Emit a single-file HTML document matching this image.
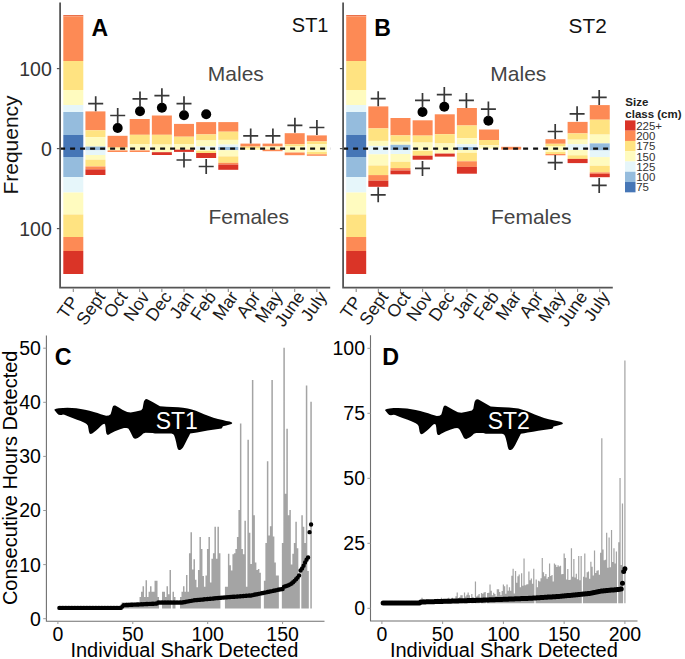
<!DOCTYPE html>
<html><head><meta charset="utf-8"><style>html,body{margin:0;padding:0;background:#fff;}svg{display:block;font-family:"Liberation Sans",sans-serif;}</style></head><body>
<svg width="685" height="659" viewBox="0 0 685 659">
<rect width="685" height="659" fill="#fff"/>
<rect x="63.3" y="15" width="20" height="1.4" fill="#E9704A"/>
<rect x="63.3" y="16.4" width="20" height="44.6" fill="#FD8A55"/>
<rect x="63.3" y="61" width="20" height="29" fill="#FFE381"/>
<rect x="63.3" y="90" width="20" height="15" fill="#FFFBBF"/>
<rect x="63.3" y="105" width="20" height="7" fill="#E6F6FA"/>
<rect x="63.3" y="112" width="20" height="23" fill="#95BCDD"/>
<rect x="63.3" y="135" width="20" height="22" fill="#4676B6"/>
<rect x="63.3" y="157" width="20" height="20" fill="#95BCDD"/>
<rect x="63.3" y="177" width="20" height="15.5" fill="#E6F6FA"/>
<rect x="63.3" y="192.5" width="20" height="22" fill="#FFFBBF"/>
<rect x="63.3" y="214.5" width="20" height="22.5" fill="#FFE381"/>
<rect x="63.3" y="237" width="20" height="14" fill="#FD8A55"/>
<rect x="63.3" y="251" width="20" height="23" fill="#DA3427"/>
<rect x="85.44" y="111.4" width="20" height="18.9" fill="#FD8A55"/>
<rect x="85.44" y="130.3" width="20" height="6.8" fill="#FFE381"/>
<rect x="85.44" y="137.1" width="20" height="9.5" fill="#FFFBBF"/>
<rect x="85.44" y="146.6" width="20" height="3.7" fill="#95BCDD"/>
<rect x="85.44" y="150.3" width="20" height="4.7" fill="#E6F6FA"/>
<rect x="85.44" y="155" width="20" height="4.7" fill="#FFFBBF"/>
<rect x="85.44" y="159.7" width="20" height="6.8" fill="#FFE381"/>
<rect x="85.44" y="166.5" width="20" height="2.9" fill="#FD8A55"/>
<rect x="85.44" y="169.4" width="20" height="5.6" fill="#DA3427"/>
<rect x="107.58" y="135.8" width="20" height="11.6" fill="#FD8A55"/>
<rect x="107.58" y="147.4" width="20" height="1.2" fill="#FFE381"/>
<rect x="107.58" y="148.6" width="20" height="1.8" fill="#FFFBBF"/>
<rect x="107.58" y="150.4" width="20" height="1.6" fill="#FD8A55"/>
<rect x="129.72" y="119" width="20" height="15.8" fill="#FD8A55"/>
<rect x="129.72" y="134.8" width="20" height="9.2" fill="#FFE381"/>
<rect x="129.72" y="144" width="20" height="6.4" fill="#FFFBBF"/>
<rect x="129.72" y="150.4" width="20" height="1.6" fill="#FD8A55"/>
<rect x="151.86" y="115.5" width="20" height="19.3" fill="#FD8A55"/>
<rect x="151.86" y="134.8" width="20" height="9.8" fill="#FFE381"/>
<rect x="151.86" y="144.6" width="20" height="7.6" fill="#FFFBBF"/>
<rect x="151.86" y="152.2" width="20" height="2.8" fill="#DA3427"/>
<rect x="174" y="123.9" width="20" height="12.8" fill="#FD8A55"/>
<rect x="174" y="136.7" width="20" height="7.3" fill="#FFE381"/>
<rect x="174" y="144" width="20" height="5.7" fill="#FFFBBF"/>
<rect x="174" y="149.7" width="20" height="2.2" fill="#DA3427"/>
<rect x="196.14" y="122.1" width="20" height="12.3" fill="#FD8A55"/>
<rect x="196.14" y="134.4" width="20" height="6.1" fill="#FFE381"/>
<rect x="196.14" y="140.5" width="20" height="6" fill="#FFFBBF"/>
<rect x="196.14" y="146.5" width="20" height="3.3" fill="#E6F6FA"/>
<rect x="196.14" y="149.8" width="20" height="1.2" fill="#FFFBBF"/>
<rect x="196.14" y="151" width="20" height="2" fill="#FFE381"/>
<rect x="196.14" y="153" width="20" height="5" fill="#DA3427"/>
<rect x="218.28" y="122.1" width="20" height="9.6" fill="#FD8A55"/>
<rect x="218.28" y="131.7" width="20" height="8.2" fill="#FFE381"/>
<rect x="218.28" y="139.9" width="20" height="4.7" fill="#FFFBBF"/>
<rect x="218.28" y="144.6" width="20" height="2.4" fill="#E6F6FA"/>
<rect x="218.28" y="147" width="20" height="3.2" fill="#95BCDD"/>
<rect x="218.28" y="150.2" width="20" height="6.2" fill="#FFFBBF"/>
<rect x="218.28" y="156.4" width="20" height="6.4" fill="#FFE381"/>
<rect x="218.28" y="162.8" width="20" height="1.8" fill="#FD8A55"/>
<rect x="218.28" y="164.6" width="20" height="5.2" fill="#DA3427"/>
<rect x="240.42" y="143.6" width="20" height="3" fill="#FD8A55"/>
<rect x="240.42" y="146.6" width="20" height="2" fill="#FFE381"/>
<rect x="240.42" y="148.6" width="20" height="1.4" fill="#FFFBBF"/>
<rect x="262.56" y="143.6" width="20" height="2.9" fill="#FD8A55"/>
<rect x="262.56" y="146.5" width="20" height="3.1" fill="#FFFBBF"/>
<rect x="262.56" y="149.6" width="20" height="1.6" fill="#FD8A55"/>
<rect x="284.7" y="133.2" width="20" height="11.1" fill="#FD8A55"/>
<rect x="284.7" y="144.3" width="20" height="1.7" fill="#FFE381"/>
<rect x="284.7" y="146" width="20" height="6.5" fill="#FFFBBF"/>
<rect x="284.7" y="152.5" width="20" height="2.7" fill="#FD8A55"/>
<rect x="306.84" y="135.4" width="20" height="6" fill="#FD8A55"/>
<rect x="306.84" y="141.4" width="20" height="2.9" fill="#FFE381"/>
<rect x="306.84" y="144.3" width="20" height="7.7" fill="#FFFBBF"/>
<rect x="306.84" y="152" width="20" height="2.3" fill="#FFE381"/>
<rect x="306.84" y="154.3" width="20" height="1.5" fill="#FD8A55"/>
<line x1="60.1" y1="148.6" x2="330.2" y2="148.6" stroke="#111" stroke-width="2.1" stroke-dasharray="5 5"/>
<circle cx="117.7" cy="128" r="5" fill="#000"/>
<circle cx="140" cy="111.2" r="5" fill="#000"/>
<circle cx="161.9" cy="107.8" r="5" fill="#000"/>
<circle cx="184" cy="115.3" r="5" fill="#000"/>
<circle cx="206.2" cy="114.3" r="5" fill="#000"/>
<path d="M88.2 103.7h15M95.7 96.2v15" stroke="#383838" stroke-width="1.7" fill="none"/>
<path d="M110.2 115.5h15M117.7 108v15" stroke="#383838" stroke-width="1.7" fill="none"/>
<path d="M132.5 98.9h15M140 91.4v15" stroke="#383838" stroke-width="1.7" fill="none"/>
<path d="M154.4 95.7h15M161.9 88.2v15" stroke="#383838" stroke-width="1.7" fill="none"/>
<path d="M176.5 103.7h15M184 96.2v15" stroke="#383838" stroke-width="1.7" fill="none"/>
<path d="M176.5 160h15M184 152.5v15" stroke="#383838" stroke-width="1.7" fill="none"/>
<path d="M198.7 166.5h15M206.2 159v15" stroke="#383838" stroke-width="1.7" fill="none"/>
<path d="M243.2 135.9h15M250.7 128.4v15" stroke="#383838" stroke-width="1.7" fill="none"/>
<path d="M265.4 135.9h15M272.9 128.4v15" stroke="#383838" stroke-width="1.7" fill="none"/>
<path d="M287.4 125.3h15M294.9 117.8v15" stroke="#383838" stroke-width="1.7" fill="none"/>
<path d="M309.4 127.5h15M316.9 120v15" stroke="#383838" stroke-width="1.7" fill="none"/>
<path d="M60.1 2.5V287.7H330.2" stroke="#555555" stroke-width="1.8" fill="none"/>
<line x1="56.9" y1="68.6" x2="60.1" y2="68.6" stroke="#555555" stroke-width="1.2"/>
<text x="51.8" y="75.5" text-anchor="end" font-size="19.5" fill="#333">100</text>
<line x1="56.9" y1="148.6" x2="60.1" y2="148.6" stroke="#555555" stroke-width="1.2"/>
<text x="51.8" y="155.5" text-anchor="end" font-size="19.5" fill="#333">0</text>
<line x1="56.9" y1="228.6" x2="60.1" y2="228.6" stroke="#555555" stroke-width="1.2"/>
<text x="51.8" y="235.5" text-anchor="end" font-size="19.5" fill="#333">100</text>
<line x1="73.3" y1="288.4" x2="73.3" y2="291.9" stroke="#8a8a8a" stroke-width="1.1"/>
<text transform="translate(69.4 294.8) rotate(-55)" text-anchor="end" font-size="17.6" fill="#1a1a1a" dy="12">TP</text>
<line x1="95.44" y1="288.4" x2="95.44" y2="291.9" stroke="#8a8a8a" stroke-width="1.1"/>
<text transform="translate(96.24 289.9) rotate(-55)" text-anchor="end" font-size="17.6" fill="#1a1a1a" dy="12">Sept</text>
<line x1="117.58" y1="288.4" x2="117.58" y2="291.9" stroke="#8a8a8a" stroke-width="1.1"/>
<text transform="translate(118.38 289.9) rotate(-55)" text-anchor="end" font-size="17.6" fill="#1a1a1a" dy="12">Oct</text>
<line x1="139.72" y1="288.4" x2="139.72" y2="291.9" stroke="#8a8a8a" stroke-width="1.1"/>
<text transform="translate(140.52 289.9) rotate(-55)" text-anchor="end" font-size="17.6" fill="#1a1a1a" dy="12">Nov</text>
<line x1="161.86" y1="288.4" x2="161.86" y2="291.9" stroke="#8a8a8a" stroke-width="1.1"/>
<text transform="translate(162.66 289.9) rotate(-55)" text-anchor="end" font-size="17.6" fill="#1a1a1a" dy="12">Dec</text>
<line x1="184" y1="288.4" x2="184" y2="291.9" stroke="#8a8a8a" stroke-width="1.1"/>
<text transform="translate(184.8 289.9) rotate(-55)" text-anchor="end" font-size="17.6" fill="#1a1a1a" dy="12">Jan</text>
<line x1="206.14" y1="288.4" x2="206.14" y2="291.9" stroke="#8a8a8a" stroke-width="1.1"/>
<text transform="translate(206.94 289.9) rotate(-55)" text-anchor="end" font-size="17.6" fill="#1a1a1a" dy="12">Feb</text>
<line x1="228.28" y1="288.4" x2="228.28" y2="291.9" stroke="#8a8a8a" stroke-width="1.1"/>
<text transform="translate(229.08 289.9) rotate(-55)" text-anchor="end" font-size="17.6" fill="#1a1a1a" dy="12">Mar</text>
<line x1="250.42" y1="288.4" x2="250.42" y2="291.9" stroke="#8a8a8a" stroke-width="1.1"/>
<text transform="translate(251.22 289.9) rotate(-55)" text-anchor="end" font-size="17.6" fill="#1a1a1a" dy="12">Apr</text>
<line x1="272.56" y1="288.4" x2="272.56" y2="291.9" stroke="#8a8a8a" stroke-width="1.1"/>
<text transform="translate(273.36 289.9) rotate(-55)" text-anchor="end" font-size="17.6" fill="#1a1a1a" dy="12">May</text>
<line x1="294.7" y1="288.4" x2="294.7" y2="291.9" stroke="#8a8a8a" stroke-width="1.1"/>
<text transform="translate(295.5 289.9) rotate(-55)" text-anchor="end" font-size="17.6" fill="#1a1a1a" dy="12">June</text>
<line x1="316.84" y1="288.4" x2="316.84" y2="291.9" stroke="#8a8a8a" stroke-width="1.1"/>
<text transform="translate(317.64 289.9) rotate(-55)" text-anchor="end" font-size="17.6" fill="#1a1a1a" dy="12">July</text>
<rect x="346.2" y="15" width="20" height="1.4" fill="#E9704A"/>
<rect x="346.2" y="16.4" width="20" height="44.6" fill="#FD8A55"/>
<rect x="346.2" y="61" width="20" height="29" fill="#FFE381"/>
<rect x="346.2" y="90" width="20" height="15" fill="#FFFBBF"/>
<rect x="346.2" y="105" width="20" height="7" fill="#E6F6FA"/>
<rect x="346.2" y="112" width="20" height="23" fill="#95BCDD"/>
<rect x="346.2" y="135" width="20" height="22" fill="#4676B6"/>
<rect x="346.2" y="157" width="20" height="20" fill="#95BCDD"/>
<rect x="346.2" y="177" width="20" height="15.5" fill="#E6F6FA"/>
<rect x="346.2" y="192.5" width="20" height="22" fill="#FFFBBF"/>
<rect x="346.2" y="214.5" width="20" height="22.5" fill="#FFE381"/>
<rect x="346.2" y="237" width="20" height="14" fill="#FD8A55"/>
<rect x="346.2" y="251" width="20" height="23" fill="#DA3427"/>
<rect x="368.34" y="106.4" width="20" height="22" fill="#FD8A55"/>
<rect x="368.34" y="128.4" width="20" height="12.5" fill="#FFE381"/>
<rect x="368.34" y="140.9" width="20" height="5" fill="#FFFBBF"/>
<rect x="368.34" y="145.9" width="20" height="8.4" fill="#E6F6FA"/>
<rect x="368.34" y="154.3" width="20" height="11.2" fill="#FFFBBF"/>
<rect x="368.34" y="165.5" width="20" height="9.6" fill="#FFE381"/>
<rect x="368.34" y="175.1" width="20" height="5.6" fill="#FD8A55"/>
<rect x="368.34" y="180.7" width="20" height="6.1" fill="#DA3427"/>
<rect x="390.48" y="118" width="20" height="17.4" fill="#FD8A55"/>
<rect x="390.48" y="135.4" width="20" height="6.4" fill="#FFE381"/>
<rect x="390.48" y="141.8" width="20" height="3" fill="#FFFBBF"/>
<rect x="390.48" y="144.8" width="20" height="5.2" fill="#95BCDD"/>
<rect x="390.48" y="150" width="20" height="4" fill="#E6F6FA"/>
<rect x="390.48" y="154" width="20" height="7.8" fill="#FFFBBF"/>
<rect x="390.48" y="161.8" width="20" height="6.3" fill="#FFE381"/>
<rect x="390.48" y="168.1" width="20" height="2.4" fill="#FD8A55"/>
<rect x="390.48" y="170.5" width="20" height="3.8" fill="#DA3427"/>
<rect x="412.62" y="120.3" width="20" height="15.3" fill="#FD8A55"/>
<rect x="412.62" y="135.6" width="20" height="7" fill="#FFE381"/>
<rect x="412.62" y="142.6" width="20" height="8.4" fill="#FFFBBF"/>
<rect x="412.62" y="151" width="20" height="4.7" fill="#FFE381"/>
<rect x="412.62" y="155.7" width="20" height="4" fill="#DA3427"/>
<rect x="434.76" y="114.3" width="20" height="19.9" fill="#FD8A55"/>
<rect x="434.76" y="134.2" width="20" height="9.3" fill="#FFE381"/>
<rect x="434.76" y="143.5" width="20" height="10.1" fill="#FFFBBF"/>
<rect x="434.76" y="153.6" width="20" height="3" fill="#DA3427"/>
<rect x="456.9" y="108" width="20" height="17.5" fill="#FD8A55"/>
<rect x="456.9" y="125.5" width="20" height="12.7" fill="#FFE381"/>
<rect x="456.9" y="138.2" width="20" height="6.1" fill="#FFFBBF"/>
<rect x="456.9" y="144.3" width="20" height="2.7" fill="#E6F6FA"/>
<rect x="456.9" y="147" width="20" height="3" fill="#95BCDD"/>
<rect x="456.9" y="150" width="20" height="2.8" fill="#FFFBBF"/>
<rect x="456.9" y="152.8" width="20" height="8.5" fill="#FFE381"/>
<rect x="456.9" y="161.3" width="20" height="5.6" fill="#FD8A55"/>
<rect x="456.9" y="166.9" width="20" height="6.8" fill="#DA3427"/>
<rect x="479.04" y="129.5" width="20" height="10.5" fill="#FD8A55"/>
<rect x="479.04" y="140" width="20" height="5.2" fill="#FFE381"/>
<rect x="479.04" y="145.2" width="20" height="3.4" fill="#FFFBBF"/>
<rect x="501.18" y="146.8" width="20" height="2.8" fill="#FD8A55"/>
<rect x="545.46" y="139.2" width="20" height="4.6" fill="#FD8A55"/>
<rect x="545.46" y="143.8" width="20" height="2.2" fill="#FFE381"/>
<rect x="545.46" y="146" width="20" height="6" fill="#FFFBBF"/>
<rect x="545.46" y="152" width="20" height="2" fill="#FFE381"/>
<rect x="545.46" y="154" width="20" height="1.3" fill="#FD8A55"/>
<rect x="567.6" y="121.9" width="20" height="11.5" fill="#FD8A55"/>
<rect x="567.6" y="133.4" width="20" height="6.3" fill="#FFE381"/>
<rect x="567.6" y="139.7" width="20" height="4.6" fill="#FFFBBF"/>
<rect x="567.6" y="144.3" width="20" height="5.7" fill="#E6F6FA"/>
<rect x="567.6" y="150" width="20" height="5.3" fill="#FFFBBF"/>
<rect x="567.6" y="155.3" width="20" height="3.6" fill="#FFE381"/>
<rect x="567.6" y="158.9" width="20" height="4.2" fill="#DA3427"/>
<rect x="589.74" y="105.1" width="20" height="14.6" fill="#FD8A55"/>
<rect x="589.74" y="119.7" width="20" height="14.9" fill="#FFE381"/>
<rect x="589.74" y="134.6" width="20" height="8.8" fill="#FFFBBF"/>
<rect x="589.74" y="143.4" width="20" height="7.1" fill="#95BCDD"/>
<rect x="589.74" y="150.5" width="20" height="6.6" fill="#E6F6FA"/>
<rect x="589.74" y="157.1" width="20" height="8.7" fill="#FFFBBF"/>
<rect x="589.74" y="165.8" width="20" height="6.6" fill="#FFE381"/>
<rect x="589.74" y="172.4" width="20" height="1.4" fill="#FD8A55"/>
<rect x="589.74" y="173.8" width="20" height="3.4" fill="#DA3427"/>
<line x1="343.1" y1="148.6" x2="612.8" y2="148.6" stroke="#111" stroke-width="2.1" stroke-dasharray="5 5"/>
<circle cx="422.5" cy="112" r="5" fill="#000"/>
<circle cx="444.3" cy="106.8" r="5" fill="#000"/>
<circle cx="488.4" cy="120.8" r="5" fill="#000"/>
<path d="M370.7 98.7h15M378.2 91.2v15" stroke="#383838" stroke-width="1.7" fill="none"/>
<path d="M370.7 194.8h15M378.2 187.3v15" stroke="#383838" stroke-width="1.7" fill="none"/>
<path d="M415 100.4h15M422.5 92.9v15" stroke="#383838" stroke-width="1.7" fill="none"/>
<path d="M415 168.4h15M422.5 160.9v15" stroke="#383838" stroke-width="1.7" fill="none"/>
<path d="M436.8 94.6h15M444.3 87.1v15" stroke="#383838" stroke-width="1.7" fill="none"/>
<path d="M458.9 100.4h15M466.4 92.9v15" stroke="#383838" stroke-width="1.7" fill="none"/>
<path d="M480.9 109.1h15M488.4 101.6v15" stroke="#383838" stroke-width="1.7" fill="none"/>
<path d="M547.7 131.5h15M555.2 124v15" stroke="#383838" stroke-width="1.7" fill="none"/>
<path d="M547.7 162.6h15M555.2 155.1v15" stroke="#383838" stroke-width="1.7" fill="none"/>
<path d="M569.6 113.8h15M577.1 106.3v15" stroke="#383838" stroke-width="1.7" fill="none"/>
<path d="M591.7 97.4h15M599.2 89.9v15" stroke="#383838" stroke-width="1.7" fill="none"/>
<path d="M591.7 185.4h15M599.2 177.9v15" stroke="#383838" stroke-width="1.7" fill="none"/>
<path d="M343.1 2.5V287.7H612.8" stroke="#555555" stroke-width="1.8" fill="none"/>
<line x1="339.9" y1="68.6" x2="343.1" y2="68.6" stroke="#555555" stroke-width="1.2"/>
<line x1="339.9" y1="148.6" x2="343.1" y2="148.6" stroke="#555555" stroke-width="1.2"/>
<line x1="339.9" y1="228.6" x2="343.1" y2="228.6" stroke="#555555" stroke-width="1.2"/>
<line x1="356.2" y1="288.4" x2="356.2" y2="291.9" stroke="#8a8a8a" stroke-width="1.1"/>
<text transform="translate(352.3 294.8) rotate(-55)" text-anchor="end" font-size="17.6" fill="#1a1a1a" dy="12">TP</text>
<line x1="378.34" y1="288.4" x2="378.34" y2="291.9" stroke="#8a8a8a" stroke-width="1.1"/>
<text transform="translate(379.14 289.9) rotate(-55)" text-anchor="end" font-size="17.6" fill="#1a1a1a" dy="12">Sept</text>
<line x1="400.48" y1="288.4" x2="400.48" y2="291.9" stroke="#8a8a8a" stroke-width="1.1"/>
<text transform="translate(401.28 289.9) rotate(-55)" text-anchor="end" font-size="17.6" fill="#1a1a1a" dy="12">Oct</text>
<line x1="422.62" y1="288.4" x2="422.62" y2="291.9" stroke="#8a8a8a" stroke-width="1.1"/>
<text transform="translate(423.42 289.9) rotate(-55)" text-anchor="end" font-size="17.6" fill="#1a1a1a" dy="12">Nov</text>
<line x1="444.76" y1="288.4" x2="444.76" y2="291.9" stroke="#8a8a8a" stroke-width="1.1"/>
<text transform="translate(445.56 289.9) rotate(-55)" text-anchor="end" font-size="17.6" fill="#1a1a1a" dy="12">Dec</text>
<line x1="466.9" y1="288.4" x2="466.9" y2="291.9" stroke="#8a8a8a" stroke-width="1.1"/>
<text transform="translate(467.7 289.9) rotate(-55)" text-anchor="end" font-size="17.6" fill="#1a1a1a" dy="12">Jan</text>
<line x1="489.04" y1="288.4" x2="489.04" y2="291.9" stroke="#8a8a8a" stroke-width="1.1"/>
<text transform="translate(489.84 289.9) rotate(-55)" text-anchor="end" font-size="17.6" fill="#1a1a1a" dy="12">Feb</text>
<line x1="511.18" y1="288.4" x2="511.18" y2="291.9" stroke="#8a8a8a" stroke-width="1.1"/>
<text transform="translate(511.98 289.9) rotate(-55)" text-anchor="end" font-size="17.6" fill="#1a1a1a" dy="12">Mar</text>
<line x1="533.32" y1="288.4" x2="533.32" y2="291.9" stroke="#8a8a8a" stroke-width="1.1"/>
<text transform="translate(534.12 289.9) rotate(-55)" text-anchor="end" font-size="17.6" fill="#1a1a1a" dy="12">Apr</text>
<line x1="555.46" y1="288.4" x2="555.46" y2="291.9" stroke="#8a8a8a" stroke-width="1.1"/>
<text transform="translate(556.26 289.9) rotate(-55)" text-anchor="end" font-size="17.6" fill="#1a1a1a" dy="12">May</text>
<line x1="577.6" y1="288.4" x2="577.6" y2="291.9" stroke="#8a8a8a" stroke-width="1.1"/>
<text transform="translate(578.4 289.9) rotate(-55)" text-anchor="end" font-size="17.6" fill="#1a1a1a" dy="12">June</text>
<line x1="599.74" y1="288.4" x2="599.74" y2="291.9" stroke="#8a8a8a" stroke-width="1.1"/>
<text transform="translate(600.54 289.9) rotate(-55)" text-anchor="end" font-size="17.6" fill="#1a1a1a" dy="12">July</text>
<text x="91.6" y="35.7" font-size="23" font-weight="bold" fill="#000">A</text>
<text x="374.3" y="35.7" font-size="23" font-weight="bold" fill="#000">B</text>
<text x="291.8" y="32.3" font-size="20" fill="#111">ST1</text>
<text x="568.6" y="32.7" font-size="20.8" fill="#111">ST2</text>
<text x="207.8" y="81" font-size="21" fill="#444">Males</text>
<text x="208.4" y="224.2" font-size="21" fill="#444">Females</text>
<text x="490.3" y="81" font-size="21" fill="#444">Males</text>
<text x="490.9" y="224.2" font-size="21" fill="#444">Females</text>
<text transform="translate(17.6 145) rotate(-90)" text-anchor="middle" font-size="21" fill="#111">Frequency</text>
<text x="625.3" y="105.8" font-size="11.5" font-weight="bold" fill="#222">Size</text>
<text x="625.3" y="118.4" font-size="11.5" font-weight="bold" fill="#222">class (cm)</text>
<rect x="625" y="120.4" width="10.5" height="10.3" fill="#DA3427"/>
<text x="636.2" y="129.7" font-size="11.5" fill="#333">225+</text>
<rect x="625" y="130.67" width="10.5" height="10.3" fill="#FD8A55"/>
<text x="636.2" y="139.97" font-size="11.5" fill="#333">200</text>
<rect x="625" y="140.94" width="10.5" height="10.3" fill="#FFE381"/>
<text x="636.2" y="150.24" font-size="11.5" fill="#333">175</text>
<rect x="625" y="151.21" width="10.5" height="10.3" fill="#FFFBBF"/>
<text x="636.2" y="160.51" font-size="11.5" fill="#333">150</text>
<rect x="625" y="161.48" width="10.5" height="10.3" fill="#E6F6FA"/>
<text x="636.2" y="170.78" font-size="11.5" fill="#333">125</text>
<rect x="625" y="171.75" width="10.5" height="10.3" fill="#95BCDD"/>
<text x="636.2" y="181.05" font-size="11.5" fill="#333">100</text>
<rect x="625" y="182.02" width="10.5" height="10.3" fill="#4676B6"/>
<text x="636.2" y="191.32" font-size="11.5" fill="#333">75</text>
<path d="M54.2 409.8 L56 408.8 L58.8 408.3 L63 407.9 L67.5 407.8 L72 408 L76.3 408.3 L80.7 409 L85 409.8 L89.5 410.8 L93.8 412 L97.5 413.1 L100.8 414.2 L103.5 415.1 L106.1 415.8 L108.8 415.6 L110.6 414.2 L111.6 411 L112.3 408.1 L113.1 406.1 L114.2 405.4 L115.3 405.6 L118.4 407.3 L122.8 409.9 L127.2 412.1 L130.7 412.5 L135.9 411.6 L141.2 410.3 L142.6 408.6 L143.3 404.5 L143.9 401.6 L145.1 399.5 L146.5 399.1 L147.8 399.4 L152.6 402 L157.8 405.1 L160 406.2 L166.7 406.7 L172.5 407 L178.4 407.3 L183 407.8 L187.7 408.4 L191.8 409.5 L195.9 410.8 L200 412.5 L204 414.3 L208.7 416 L213.4 417.8 L218 419 L222.7 420.1 L226.2 420.9 L229.7 421.6 L231.5 422.3 L232.3 423.1 L231.5 424.1 L226.2 425.5 L222.9 426.3 L222.3 427.6 L221.6 428.6 L218.1 429.1 L212.8 429.8 L207.6 430.6 L202.3 431.5 L197 432.4 L193.5 433 L190.2 433.6 L189 435.9 L187.5 438.8 L186 441.7 L184.5 444.7 L183 447.4 L181.6 449.1 L180.1 449.9 L178.8 449.9 L177.8 449.1 L177 446.5 L176.2 442.5 L175.2 438.6 L174.3 435.8 L173.3 434.3 L171.4 433.6 L164.3 433.5 L160 433.6 L155 433.6 L152.6 432.9 L145.5 432.8 L143.2 433.6 L141.5 435.2 L139.6 436.8 L137.7 437.9 L135.6 438.7 L134.2 438.6 L133.1 437.6 L132.1 435.6 L130.9 433 L129.6 430.6 L128.3 428.6 L126.5 427.9 L124 428.1 L120.1 429.2 L114.9 431.3 L110.5 433.5 L108.6 434.7 L107.2 434.7 L106.4 433.6 L105.9 431 L105.6 427.5 L105.1 424.6 L104.2 423.7 L102.6 424.4 L100.8 426.1 L98.6 428.3 L96.4 430.3 L94.2 432.1 L92.2 433.5 L90.6 434 L89.6 433.4 L88.9 431.5 L88.4 428.6 L87.9 425.8 L86.8 424.2 L85 423.1 L80.7 421.1 L76.3 419.4 L71.9 417.7 L68 416.2 L64.4 414.8 L63 414.5 L61.6 414.9 L60.3 415.1 L58.6 414.7 L57.2 413.5 L55.6 411.6 Z" fill="#000"/>
<path d="M54.2 409.8 L56 408.8 L58.8 408.3 L63 407.9 L67.5 407.8 L72 408 L76.3 408.3 L80.7 409 L85 409.8 L89.5 410.8 L93.8 412 L97.5 413.1 L100.8 414.2 L103.5 415.1 L106.1 415.8 L108.8 415.6 L110.6 414.2 L111.6 411 L112.3 408.1 L113.1 406.1 L114.2 405.4 L115.3 405.6 L118.4 407.3 L122.8 409.9 L127.2 412.1 L130.7 412.5 L135.9 411.6 L141.2 410.3 L142.6 408.6 L143.3 404.5 L143.9 401.6 L145.1 399.5 L146.5 399.1 L147.8 399.4 L152.6 402 L157.8 405.1 L160 406.2 L166.7 406.7 L172.5 407 L178.4 407.3 L183 407.8 L187.7 408.4 L191.8 409.5 L195.9 410.8 L200 412.5 L204 414.3 L208.7 416 L213.4 417.8 L218 419 L222.7 420.1 L226.2 420.9 L229.7 421.6 L231.5 422.3 L232.3 423.1 L231.5 424.1 L226.2 425.5 L222.9 426.3 L222.3 427.6 L221.6 428.6 L218.1 429.1 L212.8 429.8 L207.6 430.6 L202.3 431.5 L197 432.4 L193.5 433 L190.2 433.6 L189 435.9 L187.5 438.8 L186 441.7 L184.5 444.7 L183 447.4 L181.6 449.1 L180.1 449.9 L178.8 449.9 L177.8 449.1 L177 446.5 L176.2 442.5 L175.2 438.6 L174.3 435.8 L173.3 434.3 L171.4 433.6 L164.3 433.5 L160 433.6 L155 433.6 L152.6 432.9 L145.5 432.8 L143.2 433.6 L141.5 435.2 L139.6 436.8 L137.7 437.9 L135.6 438.7 L134.2 438.6 L133.1 437.6 L132.1 435.6 L130.9 433 L129.6 430.6 L128.3 428.6 L126.5 427.9 L124 428.1 L120.1 429.2 L114.9 431.3 L110.5 433.5 L108.6 434.7 L107.2 434.7 L106.4 433.6 L105.9 431 L105.6 427.5 L105.1 424.6 L104.2 423.7 L102.6 424.4 L100.8 426.1 L98.6 428.3 L96.4 430.3 L94.2 432.1 L92.2 433.5 L90.6 434 L89.6 433.4 L88.9 431.5 L88.4 428.6 L87.9 425.8 L86.8 424.2 L85 423.1 L80.7 421.1 L76.3 419.4 L71.9 417.7 L68 416.2 L64.4 414.8 L63 414.5 L61.6 414.9 L60.3 415.1 L58.6 414.7 L57.2 413.5 L55.6 411.6 Z" fill="#000" transform="translate(330.7 0.2)"/>
<text x="155.7" y="428.5" font-size="23" fill="#fff">ST1</text>
<text x="487.7" y="428.8" font-size="23" fill="#fff">ST2</text>
<path d="M122.31 608.42V602.47M123.81 608.42V602.47M125.31 608.42V602.47M126.81 608.42V602.47M128.31 608.42V602.47M129.8 608.42V602.47M131.3 608.42V602.47M132.8 608.42V602.47M134.3 608.42V602.47M135.8 608.42V602.47M137.29 608.42V602.47M138.79 608.42V602.47M140.29 608.42V597.06M141.79 608.42V591.65M143.29 608.42V586.24M144.78 608.42V597.06M146.28 608.42V580.29M147.78 608.42V597.06M149.28 608.42V591.65M150.78 608.42V586.24M152.27 608.42V591.65M153.77 608.42V591.65M155.27 608.42V580.83M156.77 608.42V580.83M158.27 608.42V597.06M162.76 608.42V591.65M164.26 608.42V591.65M165.76 608.42V597.06M167.25 608.42V586.24M168.75 608.42V594.36M170.25 608.42V570.01M173.25 608.42V591.65M174.74 608.42V597.06M180.74 608.42V597.06M182.23 608.42V591.65M183.73 608.42V586.24M185.23 608.42V591.65M186.73 608.42V574.88M188.23 608.42V591.65M189.72 608.42V553.24M191.22 608.42V532.14M192.72 608.42V569.47M194.22 608.42V559.19M195.72 608.42V579.75M197.21 608.42V587.32M198.71 608.42V570.01M200.21 608.42V537.01M201.71 608.42V548.91M203.21 608.42V575.96M204.7 608.42V586.78M206.2 608.42V575.42M207.7 608.42V548.91M209.2 608.42V537.01M210.7 608.42V582.45M212.19 608.42V558.65M213.69 608.42V553.24M215.19 608.42V526.73M216.69 608.42V558.65M218.19 608.42V526.73M219.68 608.42V553.24M225.68 608.42V586.78M227.17 608.42V586.78M228.67 608.42V553.78M230.17 608.42V565.14M231.67 608.42V570.55M233.17 608.42V554.32M234.66 608.42V553.24M236.16 608.42V548.91M237.66 608.42V537.01M239.16 608.42V509.96M240.66 608.42V423.4M242.15 608.42V548.91M243.65 608.42V554.32M245.15 608.42V520.78M246.65 608.42V586.78M248.15 608.42V439.63M249.64 608.42V532.68M251.14 608.42V564.06M252.64 608.42V380.12M254.14 608.42V515.37M255.64 608.42V562.44M257.13 608.42V570.01M258.63 608.42V568.93M260.13 608.42V572.72M264.62 608.42V580.83M266.12 608.42V542.96M267.62 608.42V461.27M269.12 608.42V535.39M270.62 608.42V526.19M272.11 608.42V380.12M273.61 608.42V536.47M275.11 608.42V562.44M276.61 608.42V575.42M278.11 608.42V575.42M282.6 608.42V542.96M284.1 608.42V347.66M285.6 608.42V493.73M287.09 608.42V428.81M288.59 608.42V515.37M290.09 608.42V509.96M291.59 608.42V564.6M293.09 608.42V553.78M294.58 608.42V542.96M296.08 608.42V521.86M297.58 608.42V548.37M299.08 608.42V575.42M302.07 608.42V515.37M303.57 608.42V526.73M305.07 608.42V542.96M306.57 608.42V385.53M308.07 608.42V571.09M311.06 608.42V401.76" stroke="#a4a4a4" stroke-width="1.5" fill="none"/>
<path d="M59.4 607.88h0.01M60.9 607.88h0.01M62.39 607.88h0.01M63.89 607.88h0.01M65.39 607.88h0.01M66.89 607.88h0.01M68.39 607.88h0.01M69.88 607.88h0.01M71.38 607.88h0.01M72.88 607.88h0.01M74.38 607.88h0.01M75.88 607.88h0.01M77.37 607.88h0.01M78.87 607.88h0.01M80.37 607.88h0.01M81.87 607.88h0.01M83.37 607.88h0.01M84.86 607.88h0.01M86.36 607.88h0.01M87.86 607.88h0.01M89.36 607.88h0.01M90.86 607.88h0.01M92.35 607.88h0.01M93.85 607.88h0.01M95.35 607.88h0.01M96.85 607.88h0.01M98.35 607.88h0.01M99.84 607.88h0.01M101.34 607.88h0.01M102.84 607.88h0.01M104.34 607.88h0.01M105.84 607.88h0.01M107.33 607.88h0.01M108.83 607.88h0.01M110.33 607.88h0.01M111.83 607.88h0.01M113.33 607.88h0.01M114.82 607.88h0.01M116.32 607.88h0.01M117.82 607.88h0.01M119.32 607.88h0.01M120.82 607.88h0.01M122.31 606.53h0.01M123.81 605.18h0.01M125.31 605.1h0.01M126.81 605.03h0.01M128.31 604.95h0.01M129.8 604.88h0.01M131.3 604.81h0.01M132.8 604.73h0.01M134.3 604.66h0.01M135.8 604.58h0.01M137.29 604.51h0.01M138.79 604.44h0.01M140.29 604.36h0.01M141.79 604.29h0.01M143.29 604.22h0.01M144.78 604.14h0.01M146.28 604.07h0.01M147.78 603.99h0.01M149.28 603.92h0.01M150.78 603.85h0.01M152.27 603.77h0.01M153.77 603.7h0.01M155.27 603.63h0.01M156.77 603.55h0.01M158.27 602.47h0.01M159.76 602.47h0.01M161.26 602.47h0.01M162.76 602.47h0.01M164.26 602.47h0.01M165.76 602.47h0.01M167.25 602.47h0.01M168.75 602.47h0.01M170.25 602.47h0.01M171.75 602.47h0.01M173.25 602.47h0.01M174.74 602.47h0.01M176.24 602.47h0.01M177.74 602.47h0.01M179.24 602.47h0.01M180.74 602.47h0.01M182.23 602.47h0.01M183.73 602.2h0.01M185.23 601.93h0.01M186.73 601.66h0.01M188.23 601.39h0.01M189.72 601.12h0.01M191.22 600.85h0.01M192.72 600.58h0.01M194.22 600.31h0.01M195.72 600.16h0.01M197.21 600.02h0.01M198.71 599.88h0.01M200.21 599.74h0.01M201.71 599.59h0.01M203.21 599.45h0.01M204.7 599.31h0.01M206.2 599.17h0.01M207.7 599.02h0.01M209.2 598.88h0.01M210.7 598.74h0.01M212.19 598.6h0.01M213.69 598.46h0.01M215.19 598.31h0.01M216.69 598.17h0.01M218.19 598.03h0.01M219.68 597.89h0.01M221.18 597.74h0.01M222.68 597.6h0.01M224.18 597.49h0.01M225.68 597.37h0.01M227.17 597.26h0.01M228.67 597.15h0.01M230.17 597.03h0.01M231.67 596.92h0.01M233.17 596.8h0.01M234.66 596.69h0.01M236.16 596.58h0.01M237.66 596.46h0.01M239.16 596.35h0.01M240.66 596.23h0.01M242.15 596.12h0.01M243.65 596.01h0.01M245.15 595.89h0.01M246.65 595.78h0.01M248.15 595.66h0.01M249.64 595.55h0.01M251.14 595.44h0.01M252.64 595.13h0.01M254.14 594.82h0.01M255.64 594.51h0.01M257.13 594.2h0.01M258.63 593.89h0.01M260.13 593.58h0.01M261.63 593.27h0.01M263.13 592.96h0.01M264.62 592.65h0.01M266.12 592.35h0.01M267.62 592.04h0.01M269.12 591.73h0.01M270.62 591.42h0.01M272.11 591.11h0.01M273.61 590.78h0.01M275.11 590.46h0.01M276.61 590.14h0.01M278.11 589.81h0.01M279.6 589.49h0.01M281.1 589.22h0.01M282.6 588.95h0.01M284.1 586.78h0.01M285.6 586.24h0.01M287.09 585.7h0.01M288.59 585.16h0.01M290.09 584.35h0.01M291.59 583.54h0.01M293.09 582.18h0.01M294.58 580.83h0.01M296.08 579.21h0.01M297.58 577.58h0.01M299.08 575.42h0.01M300.58 570.55h0.01M302.07 568.39h0.01M303.57 565.68h0.01M305.07 562.44h0.01M306.57 559.73h0.01M308.07 557.57h0.01M309.56 532.14h0.01M311.06 524.57h0.01" stroke="#000" stroke-width="4.4" stroke-linecap="round" fill="none"/>
<path d="M46.4 335.5V621.2H324.5" stroke="#707070" stroke-width="1.1" fill="none"/>
<line x1="43.2" y1="618.7" x2="46.4" y2="618.7" stroke="#999" stroke-width="1"/>
<text x="40.9" y="625.6" text-anchor="end" font-size="19.5" fill="#000">0</text>
<line x1="43.2" y1="564.6" x2="46.4" y2="564.6" stroke="#999" stroke-width="1"/>
<text x="40.9" y="571.5" text-anchor="end" font-size="19.5" fill="#000">10</text>
<line x1="43.2" y1="510.5" x2="46.4" y2="510.5" stroke="#999" stroke-width="1"/>
<text x="40.9" y="517.4" text-anchor="end" font-size="19.5" fill="#000">20</text>
<line x1="43.2" y1="456.4" x2="46.4" y2="456.4" stroke="#999" stroke-width="1"/>
<text x="40.9" y="463.3" text-anchor="end" font-size="19.5" fill="#000">30</text>
<line x1="43.2" y1="402.3" x2="46.4" y2="402.3" stroke="#999" stroke-width="1"/>
<text x="40.9" y="409.2" text-anchor="end" font-size="19.5" fill="#000">40</text>
<line x1="43.2" y1="348.2" x2="46.4" y2="348.2" stroke="#999" stroke-width="1"/>
<text x="40.9" y="355.1" text-anchor="end" font-size="19.5" fill="#000">50</text>
<line x1="57.9" y1="621.2" x2="57.9" y2="624" stroke="#999" stroke-width="1"/>
<text x="57.9" y="640.8" text-anchor="middle" font-size="19.5" fill="#000">0</text>
<line x1="132.8" y1="621.2" x2="132.8" y2="624" stroke="#999" stroke-width="1"/>
<text x="132.8" y="640.8" text-anchor="middle" font-size="19.5" fill="#000">50</text>
<line x1="207.7" y1="621.2" x2="207.7" y2="624" stroke="#999" stroke-width="1"/>
<text x="207.7" y="640.8" text-anchor="middle" font-size="19.5" fill="#000">100</text>
<line x1="282.6" y1="621.2" x2="282.6" y2="624" stroke="#999" stroke-width="1"/>
<text x="282.6" y="640.8" text-anchor="middle" font-size="19.5" fill="#000">150</text>
<text x="184.4" y="657" text-anchor="middle" font-size="20" fill="#000">Individual Shark Detected</text>
<text transform="translate(16.6 477.8) rotate(-90)" text-anchor="middle" font-size="20" fill="#000">Consecutive Hours Detected</text>
<text x="54.7" y="364.9" font-size="23.3" font-weight="bold" fill="#000">C</text>
<path d="M422 603.36V597.64M423.21 603.36V599.01M424.42 603.36V599.36M426.85 603.36V599.38M428.07 603.36V599.59M429.28 603.36V600.71M432.93 603.36V600.15M437.79 603.36V598.68M441.44 603.36V597.75M442.65 603.36V598.68M443.87 603.36V600.09M445.08 603.36V599.49M447.51 603.36V598.5M448.72 603.36V597.64M452.37 603.36V597.64M454.8 603.36V599.41M456.01 603.36V596.14M457.23 603.36V592.44M458.44 603.36V597.98M459.66 603.36V597.21M460.88 603.36V595.3M462.09 603.36V595.37M464.52 603.36V592.44M465.74 603.36V596.4M466.95 603.36V594.8M468.16 603.36V592.44M469.38 603.36V595.3M471.81 603.36V594.1M473.02 603.36V596.99M475.45 603.36V581.52M476.67 603.36V596.51M477.88 603.36V595.54M479.1 603.36V593.95M481.53 603.36V593.07M482.75 603.36V593.78M483.96 603.36V592.44M485.17 603.36V591.99M487.61 603.36V593.04M488.82 603.36V592.75M490.03 603.36V584.38M491.25 603.36V590.76M492.46 603.36V595.31M493.68 603.36V592.77M494.89 603.36V594.07M496.11 603.36V596.26M497.32 603.36V589.32M498.54 603.36V589.32M499.75 603.36V591.89M500.97 603.36V595.22M502.19 603.36V591.12M503.4 603.36V584.38M504.62 603.36V586.2M505.83 603.36V593.72M507.04 603.36V584.38M508.26 603.36V590.8M509.47 603.36V587.24M510.69 603.36V590.84M511.9 603.36V575.8M513.12 603.36V568.78M514.34 603.36V593.61M515.55 603.36V571.12M516.76 603.36V582.82M517.98 603.36V576.32M519.19 603.36V574.52M520.41 603.36V587.24M521.62 603.36V573.28M522.84 603.36V585.82M524.05 603.36V558.38M525.27 603.36V585.33M526.49 603.36V584.41M527.7 603.36V584.35M528.91 603.36V571.38M530.13 603.36V580.32M531.35 603.36V578.62M532.56 603.36V583.64M533.77 603.36V568.78M536.2 603.36V579.44M537.42 603.36V587.36M538.63 603.36V580.81M539.85 603.36V581.51M541.07 603.36V578.35M542.28 603.36V558.12M543.5 603.36V572.16M544.71 603.36V576.18M545.92 603.36V573.98M547.14 603.36V578.76M548.36 603.36V577.09M549.57 603.36V563.58M550.78 603.36V576.02M552 603.36V575.02M553.21 603.36V581.46M554.43 603.36V563.58M555.64 603.36V564.81M556.86 603.36V567.06M558.08 603.36V565.14M559.29 603.36V566.56M560.5 603.36V565.66M561.72 603.36V574.27M562.93 603.36V574.02M564.15 603.36V553.44M565.37 603.36V558.12M566.58 603.36V579.43M567.79 603.36V568.96M569.01 603.36V579.99M570.23 603.36V579.77M571.44 603.36V548.24M572.65 603.36V576.78M573.87 603.36V558.9M575.09 603.36V577.45M576.3 603.36V573.86M577.51 603.36V579.35M578.73 603.36V556.04M579.94 603.36V580.13M581.16 603.36V556.04M583.59 603.36V576.83M584.8 603.36V553.44M586.02 603.36V577.56M587.24 603.36V572.33M588.45 603.36V571.38M589.66 603.36V578.68M590.88 603.36V561.87M592.1 603.36V566.69M593.31 603.36V575.5M594.52 603.36V550.58M595.74 603.36V572.96M596.95 603.36V570.85M598.17 603.36V570.26M599.38 603.36V574.7M600.6 603.36V552.68M601.82 603.36V438.26M603.03 603.36V549.46M604.25 603.36V560.31M605.46 603.36V559.82M606.67 603.36V532.64M607.89 603.36V567.87M609.11 603.36V537.58M610.32 603.36V567.3M611.53 603.36V530.04M612.75 603.36V562.08M613.97 603.36V548.24M615.18 603.36V563.47M616.39 603.36V551.62M618.83 603.36V542.26M620.04 603.36V478.04M621.25 603.36V564.9M622.47 603.36V503.52M624.9 603.36V360.52" stroke="#a4a4a4" stroke-width="1.22" fill="none"/>
<path d="M383.11 603.1h0.01M384.33 603.1h0.01M385.54 603.1h0.01M386.76 603.1h0.01M387.97 603.1h0.01M389.19 603.1h0.01M390.4 603.1h0.01M391.62 603.1h0.01M392.83 603.1h0.01M394.05 603.1h0.01M395.26 603.1h0.01M396.48 603.1h0.01M397.69 603.1h0.01M398.91 603.1h0.01M400.12 603.1h0.01M401.34 603.1h0.01M402.55 603.1h0.01M403.77 603.1h0.01M404.98 603.1h0.01M406.2 603.1h0.01M407.41 603.1h0.01M408.63 603.1h0.01M409.84 603.1h0.01M411.06 603.1h0.01M412.27 603.1h0.01M413.49 603.1h0.01M414.7 603.1h0.01M415.92 603.1h0.01M417.13 603.1h0.01M418.35 603.1h0.01M419.56 603.1h0.01M420.78 602.06h0.01M422 602.02h0.01M423.21 601.99h0.01M424.42 601.95h0.01M425.64 601.91h0.01M426.85 601.87h0.01M428.07 601.84h0.01M429.28 601.8h0.01M430.5 601.76h0.01M431.71 601.73h0.01M432.93 601.69h0.01M434.14 601.65h0.01M435.36 601.61h0.01M436.57 601.58h0.01M437.79 601.54h0.01M439 601.5h0.01M440.22 601.47h0.01M441.44 601.43h0.01M442.65 601.39h0.01M443.87 601.35h0.01M445.08 601.32h0.01M446.29 601.28h0.01M447.51 601.24h0.01M448.72 601.21h0.01M449.94 601.17h0.01M451.15 601.13h0.01M452.37 601.09h0.01M453.58 601.06h0.01M454.8 601.02h0.01M456.01 600.98h0.01M457.23 600.95h0.01M458.44 600.91h0.01M459.66 600.87h0.01M460.88 600.83h0.01M462.09 600.8h0.01M463.3 600.76h0.01M464.52 600.72h0.01M465.74 600.69h0.01M466.95 600.65h0.01M468.16 600.61h0.01M469.38 600.57h0.01M470.59 600.54h0.01M471.81 600.5h0.01M473.02 600.46h0.01M474.24 600.43h0.01M475.45 600.39h0.01M476.67 600.35h0.01M477.88 600.31h0.01M479.1 600.28h0.01M480.31 600.24h0.01M481.53 600.19h0.01M482.75 600.14h0.01M483.96 600.1h0.01M485.17 600.05h0.01M486.39 600h0.01M487.61 599.95h0.01M488.82 599.91h0.01M490.03 599.86h0.01M491.25 599.81h0.01M492.46 599.76h0.01M493.68 599.72h0.01M494.89 599.67h0.01M496.11 599.62h0.01M497.32 599.57h0.01M498.54 599.53h0.01M499.75 599.48h0.01M500.97 599.43h0.01M502.19 599.38h0.01M503.4 599.34h0.01M504.62 599.29h0.01M505.83 599.24h0.01M507.04 599.19h0.01M508.26 599.15h0.01M509.47 599.1h0.01M510.69 599.05h0.01M511.9 599h0.01M513.12 598.96h0.01M514.34 598.91h0.01M515.55 598.86h0.01M516.76 598.81h0.01M517.98 598.77h0.01M519.19 598.72h0.01M520.41 598.67h0.01M521.62 598.62h0.01M522.84 598.58h0.01M524.05 598.53h0.01M525.27 598.48h0.01M526.49 598.43h0.01M527.7 598.39h0.01M528.91 598.34h0.01M530.13 598.29h0.01M531.35 598.21h0.01M532.56 598.13h0.01M533.77 598.06h0.01M534.99 597.98h0.01M536.2 597.9h0.01M537.42 597.82h0.01M538.63 597.74h0.01M539.85 597.67h0.01M541.07 597.59h0.01M542.28 597.51h0.01M543.5 597.43h0.01M544.71 597.35h0.01M545.92 597.28h0.01M547.14 597.2h0.01M548.36 597.12h0.01M549.57 597.04h0.01M550.78 596.96h0.01M552 596.89h0.01M553.21 596.81h0.01M554.43 596.73h0.01M555.64 596.65h0.01M556.86 596.57h0.01M558.08 596.5h0.01M559.29 596.42h0.01M560.5 596.34h0.01M561.72 596.22h0.01M562.93 596.1h0.01M564.15 595.98h0.01M565.37 595.86h0.01M566.58 595.74h0.01M567.79 595.62h0.01M569.01 595.51h0.01M570.23 595.39h0.01M571.44 595.27h0.01M572.65 595.15h0.01M573.87 595.03h0.01M575.09 594.91h0.01M576.3 594.79h0.01M577.51 594.67h0.01M578.73 594.55h0.01M579.94 594.43h0.01M581.16 594.31h0.01M582.38 594.19h0.01M583.59 594.08h0.01M584.8 593.96h0.01M586.02 593.84h0.01M587.24 593.72h0.01M588.45 593.6h0.01M589.66 593.48h0.01M590.88 593.22h0.01M592.1 592.96h0.01M593.31 592.7h0.01M594.52 592.44h0.01M595.74 592.18h0.01M596.95 591.92h0.01M598.17 591.66h0.01M599.38 591.4h0.01M600.6 591.14h0.01M601.82 591.03h0.01M603.03 590.91h0.01M604.25 590.8h0.01M605.46 590.68h0.01M606.67 590.57h0.01M607.89 590.46h0.01M609.11 590.34h0.01M610.32 590.23h0.01M611.53 590.12h0.01M612.75 590h0.01M613.97 589.89h0.01M615.18 589.77h0.01M616.39 589.66h0.01M617.61 589.55h0.01M618.83 589.43h0.01M620.04 589.32h0.01M621.25 589.06h0.01M622.47 583.34h0.01M623.68 571.38h0.01M624.9 568.78h0.01" stroke="#000" stroke-width="5" stroke-linecap="round" fill="none"/>
<path d="M370.5 335.3V621H637.5" stroke="#707070" stroke-width="1.1" fill="none"/>
<line x1="367.4" y1="608.3" x2="370.5" y2="608.3" stroke="#999" stroke-width="1"/>
<text x="365" y="615.2" text-anchor="end" font-size="19.5" fill="#000">0</text>
<line x1="367.4" y1="543.3" x2="370.5" y2="543.3" stroke="#999" stroke-width="1"/>
<text x="365" y="550.2" text-anchor="end" font-size="19.5" fill="#000">25</text>
<line x1="367.4" y1="478.3" x2="370.5" y2="478.3" stroke="#999" stroke-width="1"/>
<text x="365" y="485.2" text-anchor="end" font-size="19.5" fill="#000">50</text>
<line x1="367.4" y1="413.3" x2="370.5" y2="413.3" stroke="#999" stroke-width="1"/>
<text x="365" y="420.2" text-anchor="end" font-size="19.5" fill="#000">75</text>
<line x1="367.4" y1="348.3" x2="370.5" y2="348.3" stroke="#999" stroke-width="1"/>
<text x="365" y="355.2" text-anchor="end" font-size="19.5" fill="#000">100</text>
<line x1="381.9" y1="621" x2="381.9" y2="624" stroke="#999" stroke-width="1"/>
<text x="381.9" y="640.8" text-anchor="middle" font-size="19.5" fill="#000">0</text>
<line x1="442.65" y1="621" x2="442.65" y2="624" stroke="#999" stroke-width="1"/>
<text x="442.65" y="640.8" text-anchor="middle" font-size="19.5" fill="#000">50</text>
<line x1="503.4" y1="621" x2="503.4" y2="624" stroke="#999" stroke-width="1"/>
<text x="503.4" y="640.8" text-anchor="middle" font-size="19.5" fill="#000">100</text>
<line x1="564.15" y1="621" x2="564.15" y2="624" stroke="#999" stroke-width="1"/>
<text x="564.15" y="640.8" text-anchor="middle" font-size="19.5" fill="#000">150</text>
<line x1="624.9" y1="621" x2="624.9" y2="624" stroke="#999" stroke-width="1"/>
<text x="624.9" y="640.8" text-anchor="middle" font-size="19.5" fill="#000">200</text>
<text x="503.9" y="657" text-anchor="middle" font-size="20" fill="#000">Individual Shark Detected</text>
<text x="382.2" y="364.8" font-size="23.3" font-weight="bold" fill="#000">D</text>
</svg>
</body></html>
